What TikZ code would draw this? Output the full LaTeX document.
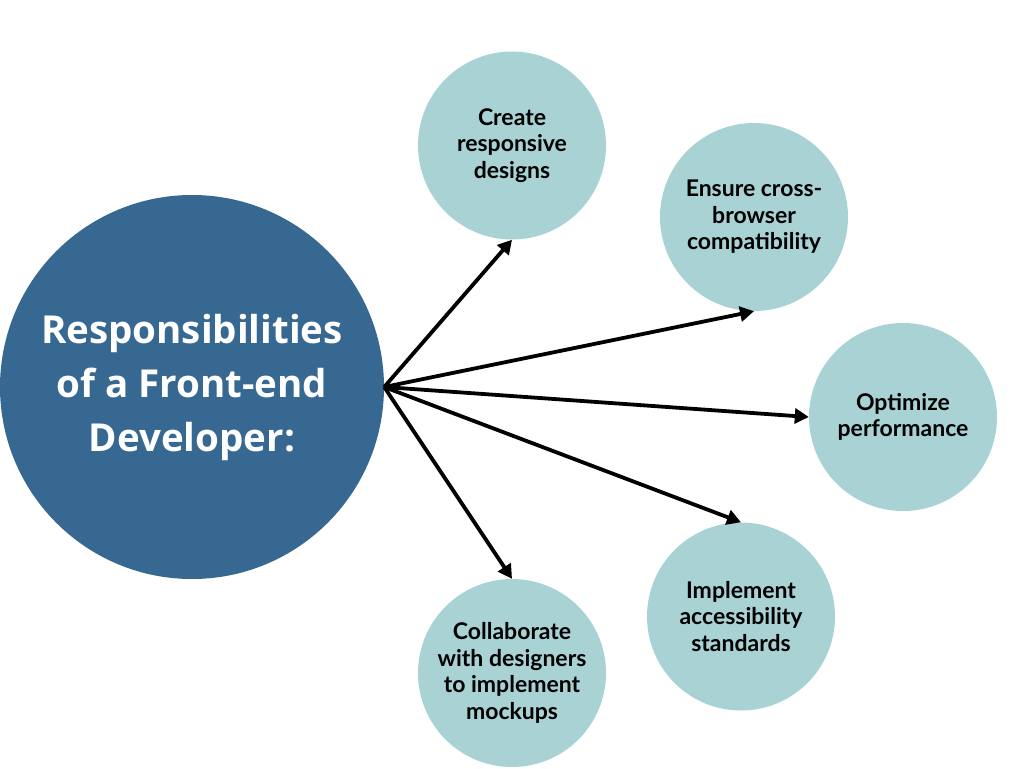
\documentclass[tikz,border=0pt]{standalone}
\usepackage{fontspec}
\setmainfont{Open Sans}
\newfontfamily\smallfont{Lato}
\usetikzlibrary{arrows.meta}
\definecolor{bigblue}{HTML}{376892}
\definecolor{teal}{HTML}{A8D2D4}
\begin{document}
\begin{tikzpicture}[x=1pt,y=-1pt,
  bigc/.style={circle,fill=bigblue,minimum size=384pt,inner sep=0pt,text=white,
    font=\fontsize{38.5}{54}\selectfont\bfseries,align=center},
  smallc/.style={circle,fill=teal,minimum size=188pt,inner sep=0pt,text=black,
    font=\smallfont\fontsize{23}{26.5}\selectfont\bfseries,align=center},
  arr/.style={line width=3.8pt,-{Triangle[length=14pt,width=15pt]}}]
\useasboundingbox (0,0) rectangle (1024,768);
\node[bigc] (main) at (192,387) {Responsibilities\\of a Front-end\\Developer:};
\node[smallc] (c1) at (512,145.5) {Create\\responsive\\designs};
\node[smallc] (c2) at (754,217) {Ensure cross-\\browser\\compatibility};
\node[smallc] (c3) at (903,417) {Optimize\\performance};
\node[smallc] (c4) at (741,616.5) {Implement\\accessibility\\standards};
\node[smallc] (c5) at (512,673) {Collaborate\\with designers\\to implement\\mockups};
\coordinate (s) at (main.east);
\draw[arr] (s) -- (c1.south);
\draw[arr] (s) -- (c2.south);
\draw[arr] (s) -- (c3.west);
\draw[arr] (s) -- (c4.north);
\draw[arr] (s) -- (c5.north);
\end{tikzpicture}
\end{document}
